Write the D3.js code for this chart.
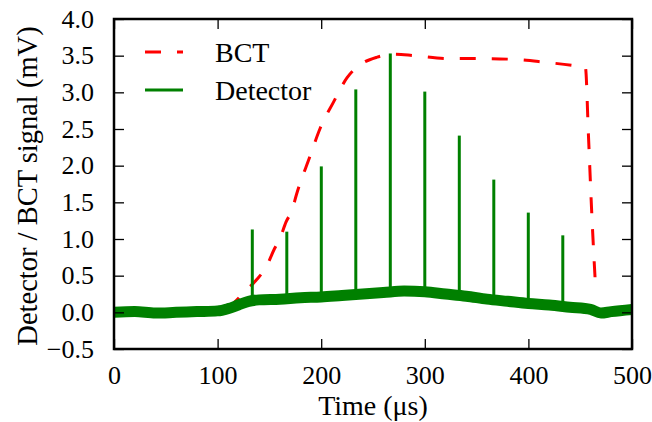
<!DOCTYPE html>
<html>
<head>
<meta charset="utf-8">
<script src="https://cdn.jsdelivr.net/npm/d3@7"></script>
<style>
  body { margin: 0; background: #fff; }
  svg text { font-family: "Liberation Serif", "Times New Roman", serif; fill: #000; }
</style>
</head>
<body>
<svg id="chart" width="652" height="422"></svg>
<script>
// beam current transformer trace (time in us, mV)
var bctTime = [110, 118, 127, 138, 147, 155, 160, 166, 172, 176, 189, 199, 212, 225, 237, 254, 270, 290, 323, 353, 385, 416, 446, 455, 458, 461, 465];
var bctSignal = [0.04, 0.16, 0.29, 0.45, 0.62, 0.87, 1.0, 1.23, 1.40, 1.60, 2.12, 2.51, 2.87, 3.20, 3.37, 3.48, 3.52, 3.50, 3.46, 3.46, 3.45, 3.41, 3.36, 3.34, 2.40, 1.40, 0.30];

// detector baseline (the noisy band) read every ~20 us
var detTime = [0, 20, 40, 60, 80, 100, 110, 120, 130, 140, 160, 180, 200, 220, 240, 260, 280, 300, 320, 340, 360, 380, 400, 420, 440, 460, 470, 480, 500];
var detBase = [0.0, 0.01, -0.01, 0.0, 0.01, 0.02, 0.05, 0.10, 0.15, 0.17, 0.18, 0.20, 0.21, 0.23, 0.25, 0.27, 0.29, 0.28, 0.25, 0.22, 0.18, 0.15, 0.12, 0.10, 0.07, 0.04, -0.01, 0.01, 0.04];

// detector spikes
var spikeTime = [133.5, 166.8, 200.1, 233.4, 266.7, 300.0, 333.3, 366.6, 399.9, 433.2];
var spikePeak = [1.13, 1.10, 1.99, 3.04, 3.53, 3.01, 2.41, 1.81, 1.36, 1.05];

var xTicks = [0, 100, 200, 300, 400, 500];
var yTicks = [-0.5, 0.0, 0.5, 1.0, 1.5, 2.0, 2.5, 3.0, 3.5, 4.0];

var svg = d3.select("#chart");
var margin = { left: 114, top: 19, right: 20, bottom: 73 };
var width = 652 - margin.left - margin.right;
var height = 422 - margin.top - margin.bottom;

var x = d3.scaleLinear().domain([0, 500]).range([0, width]);
var y = d3.scaleLinear().domain([-0.5, 4.0]).range([height, 0]);

var g = svg.append("g")
  .attr("transform", "translate(" + margin.left + "," + margin.top + ")");

var plot = g.append("g");

// BCT dashed red line
var bct = bctTime.map(function (t, i) { return [t, bctSignal[i]]; });
plot.append("path")
  .datum(bct)
  .attr("fill", "none")
  .attr("stroke", "#ff0000")
  .attr("stroke-width", 3)
  .attr("stroke-dasharray", "16,16")
  .attr("d", d3.line().curve(d3.curveMonotoneX).x(function (d) { return x(d[0]); }).y(function (d) { return y(d[1]); }));

// detector band
var det = detTime.map(function (t, i) { return [t, detBase[i]]; });
plot.append("path")
  .datum(det)
  .attr("fill", "none")
  .attr("stroke", "#008000")
  .attr("stroke-width", 11)
  .attr("stroke-linejoin", "round")
  .attr("d", d3.line().curve(d3.curveMonotoneX).x(function (d) { return x(d[0]); }).y(function (d) { return y(d[1]); }));

// spikes rise from the band
var baseAt = d3.scaleLinear().domain(detTime).range(detBase);
plot.selectAll("line.spike").data(spikeTime).enter()
  .append("line")
  .attr("class", "spike")
  .attr("x1", function (t) { return x(t); })
  .attr("x2", function (t) { return x(t); })
  .attr("y1", function (t) { return y(baseAt(t)); })
  .attr("y2", function (t, i) { return y(spikePeak[i]); })
  .attr("stroke", "#008000")
  .attr("stroke-width", 3);

// ticks pointing inward on all four sides
var tickLen = 10;
function tickStyle(sel) {
  sel.select(".domain").remove();
  sel.selectAll(".tick line").attr("stroke", "#000").attr("stroke-width", 1.3);
  sel.selectAll(".tick text").attr("font-size", 26).attr("font-family", "Liberation Serif, serif");
}
var fmtY = function (d) { return d3.format(".1f")(d).replace("-", "\u2212"); };

g.append("g")
  .attr("transform", "translate(0," + height + ")")
  .call(d3.axisBottom(x).tickValues(xTicks).tickSize(-tickLen).tickPadding(tickLen + 7).tickFormat(d3.format("d")))
  .call(tickStyle);
g.append("g")
  .call(d3.axisTop(x).tickValues(xTicks).tickSize(-tickLen).tickFormat(""))
  .call(tickStyle);
g.append("g")
  .call(d3.axisLeft(y).tickValues(yTicks).tickSize(-tickLen).tickPadding(tickLen + 10).tickFormat(fmtY))
  .call(tickStyle);
g.append("g")
  .attr("transform", "translate(" + width + ",0)")
  .call(d3.axisRight(y).tickValues(yTicks).tickSize(-tickLen).tickFormat(""))
  .call(tickStyle);

// frame
g.append("rect")
  .attr("width", width)
  .attr("height", height)
  .attr("fill", "none")
  .attr("stroke", "#000")
  .attr("stroke-width", 2.5);

// axis labels
svg.append("text")
  .attr("x", margin.left + width / 2)
  .attr("y", 415)
  .attr("text-anchor", "middle")
  .attr("font-size", 28)
  .text("Time (\u03bcs)");

svg.append("text")
  .attr("transform", "translate(37," + (margin.top + height / 2 + 2) + ") rotate(-90)")
  .attr("text-anchor", "middle")
  .attr("font-size", 28.5)
  .text("Detector / BCT signal (mV)");

// legend
var legend = svg.append("g").attr("transform", "translate(145,0)");
var legendItems = [
  { name: "BCT", color: "#ff0000", dash: "16,16", y: 52 },
  { name: "Detector", color: "#008000", dash: null, y: 90 }
];
legendItems.forEach(function (item) {
  legend.append("line")
    .attr("x1", 0).attr("x2", 38)
    .attr("y1", item.y).attr("y2", item.y)
    .attr("stroke", item.color)
    .attr("stroke-width", 3)
    .attr("stroke-dasharray", item.dash);
  legend.append("text")
    .attr("x", 70)
    .attr("y", item.y + 10)
    .attr("font-size", 28)
    .text(item.name);
});
</script>
</body>
</html>
